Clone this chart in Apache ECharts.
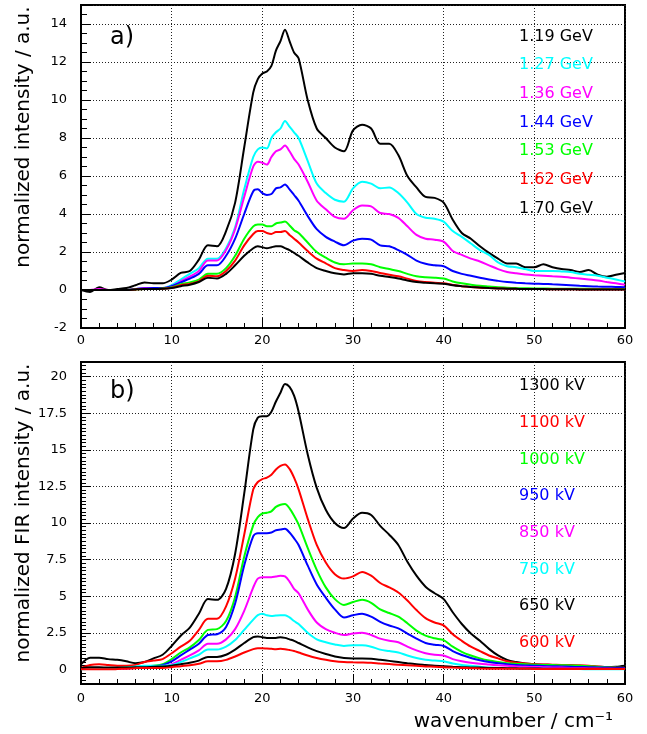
<!DOCTYPE html>
<html>
<head>
<meta charset="utf-8">
<script src="https://cdn.jsdelivr.net/npm/echarts@6/dist/echarts.min.js"></script>
<style>
  html, body { margin: 0; padding: 0; background: #fff; }
  #main { width: 647px; height: 734px; }
</style>
</head>
<body>
<div id="main"></div>
<script>
// wavenumber grid (cm^-1), finer around the main peak
var wavenumber = [0, 1, 2, 3, 4, 5, 6, 7, 8, 9, 10, 11, 12, 13, 14, 15, 16, 17, 18, 19,
    19.5, 20, 20.5, 21, 21.5, 22, 22.5, 23, 23.5, 24,
    25, 26, 27, 28, 29, 30, 31, 32, 33, 34, 35, 36, 37, 38, 39, 40, 41, 42, 43, 44,
    45, 46, 47, 48, 49, 50, 51, 52, 53, 54, 55, 56, 57, 58, 59, 60];

// panel a) electron energy
var gevNames = ['1.19 GeV', '1.27 GeV', '1.36 GeV', '1.44 GeV', '1.53 GeV', '1.62 GeV', '1.70 GeV'];
var gevColors = ['#000000', '#00ffff', '#ff00ff', '#0000ff', '#00ff00', '#ff0000', '#000000'];
var gev119 = [0, -0.1, 0.15, 0, 0.05, 0.1, 0.25, 0.4, 0.35, 0.35, 0.55, 0.9, 1.0, 1.6, 2.35, 2.3, 3.1, 4.6, 7.5, 10.4,
    11.1, 11.4, 11.5, 11.8, 12.6, 13.1, 13.7, 13.1, 12.5, 12.2,
    10.0, 8.5, 8.0, 7.5, 7.3, 8.4, 8.7, 8.5, 7.7, 7.7, 7.1, 6.0, 5.4, 4.9, 4.85, 4.6, 3.7, 3.0, 2.7, 2.3,
    1.95, 1.65, 1.4, 1.4, 1.2, 1.2, 1.35, 1.2, 1.1, 1.05, 0.95, 1.05, 0.8, 0.7, 0.8, 0.9];
var gev127 = [0, 0, 0, 0, 0, 0, 0.05, 0.1, 0.1, 0.1, 0.25, 0.55, 0.85, 1.15, 1.65, 1.65, 2.2, 3.3, 5.3, 7.0,
    7.4, 7.5, 7.45, 8.0, 8.3, 8.5, 8.9, 8.6, 8.3, 8.0,
    6.8, 5.6, 5.1, 4.75, 4.65, 5.35, 5.7, 5.6, 5.35, 5.4, 5.1, 4.6, 4.0, 3.8, 3.75, 3.6, 3.1, 2.8, 2.45, 2.1,
    1.85, 1.45, 1.25, 1.2, 1.1, 1.0, 1.0, 1.0, 0.98, 0.95, 0.85, 0.8, 0.75, 0.65, 0.55, 0.45];
var gev136 = [0, 0, 0.05, 0, 0, 0, 0.05, 0.1, 0.1, 0.1, 0.2, 0.45, 0.7, 1.0, 1.55, 1.55, 2.1, 3.2, 4.9, 6.5,
    6.75, 6.7, 6.6, 7.0, 7.3, 7.4, 7.6, 7.3, 6.9, 6.6,
    5.7, 4.7, 4.25, 3.85, 3.75, 4.2, 4.45, 4.4, 4.05, 4.0, 3.8, 3.35, 2.9, 2.7, 2.65, 2.55, 2.05, 1.85, 1.65, 1.5,
    1.3, 1.1, 0.95, 0.88, 0.82, 0.78, 0.75, 0.72, 0.7, 0.65, 0.6, 0.55, 0.5, 0.42, 0.35, 0.28];
var gev144 = [0, 0, 0, 0, 0, 0, 0.05, 0.08, 0.1, 0.1, 0.2, 0.4, 0.6, 0.85, 1.3, 1.3, 1.8, 2.7, 4.0, 5.2,
    5.3, 5.1, 5.0, 5.05, 5.35, 5.4, 5.55, 5.3, 5.0, 4.7,
    3.9, 3.2, 2.8, 2.55, 2.35, 2.6, 2.7, 2.65, 2.35, 2.3, 2.1, 1.85, 1.55, 1.38, 1.3, 1.25, 1.0, 0.85, 0.75, 0.65,
    0.55, 0.48, 0.42, 0.38, 0.35, 0.33, 0.32, 0.3, 0.28, 0.25, 0.22, 0.2, 0.18, 0.17, 0.16, 0.15];
var gev153 = [0, 0, 0, 0, 0, 0, 0.03, 0.05, 0.05, 0.08, 0.15, 0.3, 0.4, 0.55, 0.85, 0.85, 1.15, 1.8, 2.7, 3.35,
    3.45, 3.45, 3.35, 3.35, 3.5, 3.55, 3.6, 3.4, 3.15, 3.0,
    2.5, 2.0, 1.7, 1.45, 1.35, 1.4, 1.4, 1.35, 1.2, 1.1, 1.0, 0.85, 0.72, 0.67, 0.65, 0.6, 0.45, 0.35, 0.28, 0.22,
    0.18, 0.14, 0.12, 0.1, 0.09, 0.08, 0.08, 0.07, 0.07, 0.06, 0.06, 0.06, 0.05, 0.05, 0.05, 0.05];
var gev162 = [0, 0, 0, 0, 0, 0, 0.03, 0.05, 0.05, 0.07, 0.12, 0.25, 0.32, 0.45, 0.75, 0.72, 1.0, 1.55, 2.35, 2.95,
    3.1, 3.1, 3.0, 2.95, 3.05, 3.05, 3.1, 2.9, 2.7, 2.5,
    2.05, 1.65, 1.4, 1.15, 1.05, 1.0, 1.05, 1.0, 0.9, 0.8, 0.72, 0.6, 0.48, 0.42, 0.38, 0.35, 0.27, 0.2, 0.16, 0.12,
    0.1, 0.08, 0.07, 0.06, 0.05, 0.05, 0.05, 0.04, 0.04, 0.04, 0.03, 0.03, 0.03, 0.03, 0.03, 0.03];
var gev170 = [0, 0, 0, 0, 0, 0, 0.03, 0.05, 0.05, 0.06, 0.1, 0.2, 0.28, 0.42, 0.65, 0.6, 0.85, 1.3, 1.8, 2.2,
    2.3, 2.25, 2.2, 2.25, 2.3, 2.3, 2.2, 2.1, 1.95, 1.8,
    1.45, 1.15, 1.0, 0.88, 0.82, 0.88, 0.88, 0.85, 0.75, 0.68, 0.6, 0.5, 0.42, 0.38, 0.35, 0.33, 0.25, 0.2, 0.16, 0.13,
    0.1, 0.08, 0.07, 0.06, 0.05, 0.05, 0.05, 0.04, 0.04, 0.04, 0.03, 0.03, 0.03, 0.03, 0.03, 0.03];

// panel b) gun voltage
var kvNames = ['1300 kV', '1100 kV', '1000 kV', '950 kV', '850 kV', '750 kV', '650 kV', '600 kV'];
var kvColors = ['#000000', '#ff0000', '#00ff00', '#0000ff', '#ff00ff', '#00ffff', '#000000', '#ff0000'];
var kv1300 = [0.35, 0.8, 0.8, 0.7, 0.65, 0.55, 0.42, 0.5, 0.75, 1.0, 1.6, 2.3, 2.85, 3.8, 4.8, 4.75, 5.5, 7.9, 12.0, 16.4,
    17.2, 17.3, 17.3, 17.6, 18.3, 18.9, 19.5, 19.3, 18.7, 17.6,
    14.7, 12.4, 10.9, 10.0, 9.65, 10.3, 10.7, 10.55, 9.8, 9.2, 8.5, 7.35, 6.4, 5.65, 5.2, 4.8, 3.9, 3.1, 2.45, 1.95,
    1.4, 0.95, 0.65, 0.5, 0.4, 0.35, 0.32, 0.3, 0.27, 0.25, 0.22, 0.2, 0.18, 0.16, 0.18, 0.25];
var kv1100 = [0.1, 0.3, 0.35, 0.3, 0.25, 0.25, 0.3, 0.5, 0.6, 0.7, 1.1, 1.55, 1.95, 2.7, 3.45, 3.45, 4.3, 6.2, 9.2, 12.3,
    12.8, 13.0, 13.1, 13.3, 13.65, 13.9, 14.0, 13.7, 13.1, 12.3,
    10.3, 8.5, 7.3, 6.5, 6.2, 6.35, 6.65, 6.4, 5.9, 5.6, 5.25, 4.7, 4.05, 3.5, 3.2, 3.0, 2.4, 1.95, 1.55, 1.25,
    0.95, 0.75, 0.55, 0.45, 0.4, 0.35, 0.33, 0.32, 0.3, 0.3, 0.28, 0.25, 0.2, 0.15, 0.12, 0.1];
var kv1000 = [0.05, 0.1, 0.1, 0.1, 0.1, 0.12, 0.15, 0.2, 0.25, 0.35, 0.7, 1.15, 1.5, 2.0, 2.7, 2.75, 3.3, 4.95, 7.7, 9.85,
    10.4, 10.65, 10.7, 10.8, 11.1, 11.25, 11.3, 11.0, 10.5, 9.9,
    8.3, 6.8, 5.6, 4.8, 4.4, 4.6, 4.75, 4.55, 4.1, 3.85, 3.6, 3.15, 2.65, 2.3, 2.12, 2.0, 1.55, 1.2, 0.95, 0.75,
    0.6, 0.5, 0.42, 0.38, 0.35, 0.32, 0.3, 0.3, 0.28, 0.27, 0.25, 0.22, 0.18, 0.15, 0.12, 0.1];
var kv950 = [0.05, 0.1, 0.1, 0.1, 0.1, 0.1, 0.12, 0.15, 0.2, 0.3, 0.55, 0.95, 1.35, 1.75, 2.35, 2.4, 2.9, 4.5, 7.1, 9.1,
    9.3, 9.3, 9.3, 9.35, 9.5, 9.55, 9.6, 9.35, 8.95, 8.5,
    7.1, 5.8, 4.9, 4.1, 3.55, 3.7, 3.8, 3.6, 3.25, 3.0, 2.8, 2.45, 2.1, 1.8, 1.68, 1.6, 1.25, 0.98, 0.78, 0.62,
    0.5, 0.42, 0.35, 0.3, 0.27, 0.25, 0.23, 0.21, 0.2, 0.18, 0.16, 0.15, 0.13, 0.12, 0.11, 0.1];
var kv850 = [0.05, 0.05, 0.05, 0.05, 0.05, 0.05, 0.1, 0.12, 0.15, 0.2, 0.35, 0.65, 0.95, 1.3, 1.75, 1.75, 2.05, 2.75, 4.0, 5.6,
    6.2, 6.3, 6.3, 6.3, 6.35, 6.4, 6.35, 6.0, 5.5, 5.2,
    4.1, 3.2, 2.75, 2.5, 2.35, 2.45, 2.5, 2.35, 2.1, 1.95, 1.85, 1.55, 1.3, 1.1, 1.0, 0.95, 0.7, 0.55, 0.45, 0.38,
    0.33, 0.28, 0.24, 0.2, 0.18, 0.16, 0.15, 0.13, 0.12, 0.1, 0.09, 0.08, 0.07, 0.06, 0.05, 0.05];
var kv750 = [0, 0.05, 0.05, 0.05, 0.1, 0.12, 0.2, 0.25, 0.25, 0.25, 0.3, 0.5, 0.75, 1.0, 1.35, 1.35, 1.55, 2.0, 2.7, 3.4,
    3.7, 3.8, 3.7, 3.65, 3.68, 3.7, 3.7, 3.55, 3.3, 3.1,
    2.5, 2.05, 1.85, 1.7, 1.6, 1.65, 1.65, 1.55, 1.35, 1.25, 1.15, 0.95, 0.78, 0.66, 0.6, 0.55, 0.4, 0.3, 0.25, 0.18,
    0.12, 0.1, 0.08, 0.06, 0.05, 0.05, 0.04, 0.03, 0.03, 0.02, 0.02, 0.01, 0.01, 0, 0, 0];
var kv650 = [0.1, 0.15, 0.15, 0.12, 0.12, 0.12, 0.15, 0.15, 0.18, 0.2, 0.25, 0.35, 0.45, 0.6, 0.85, 0.85, 1.0, 1.35, 1.8, 2.2,
    2.25, 2.2, 2.15, 2.15, 2.15, 2.2, 2.15, 2.05, 1.95, 1.8,
    1.5, 1.25, 1.05, 0.88, 0.78, 0.75, 0.75, 0.72, 0.65, 0.58, 0.5, 0.42, 0.35, 0.3, 0.25, 0.22, 0.18, 0.15, 0.13, 0.12,
    0.1, 0.09, 0.08, 0.07, 0.06, 0.06, 0.05, 0.05, 0.05, 0.05, 0.05, 0.05, 0.05, 0.05, 0.05, 0.05];
var kv600 = [0, 0, 0, 0, 0.02, 0.05, 0.08, 0.1, 0.1, 0.1, 0.15, 0.22, 0.28, 0.38, 0.55, 0.55, 0.65, 0.88, 1.15, 1.38,
    1.45, 1.45, 1.42, 1.4, 1.38, 1.4, 1.38, 1.32, 1.25, 1.15,
    0.95, 0.78, 0.65, 0.55, 0.5, 0.48, 0.47, 0.45, 0.4, 0.36, 0.32, 0.28, 0.24, 0.2, 0.18, 0.15, 0.12, 0.1, 0.08, 0.06,
    0.05, 0.05, 0.04, 0.04, 0.04, 0.03, 0.03, 0.03, 0.03, 0.03, 0.02, 0.02, 0.02, 0.02, 0.02, 0.02];

var gevData = [gev119, gev127, gev136, gev144, gev153, gev162, gev170];
var kvData = [kv1300, kv1100, kv1000, kv950, kv850, kv750, kv650, kv600];
var xTicks = [0, 10, 20, 30, 40, 50, 60];
var yTicksB = [0, 2.5, 5, 7.5, 10, 12.5, 15, 17.5, 20];

var FONT = '"DejaVu Sans", sans-serif';

function toPairs(vals) {
    return wavenumber.map(function (x, i) { return [x, vals[i]]; });
}

function xAxisFor(idx, margin) {
    return {
        type: 'value', gridIndex: idx, min: 0, max: 60, interval: 10,
        axisLine: { show: true, onZero: false, lineStyle: { color: '#000', width: 2 } },
        axisTick: { show: true, inside: true, length: 10, lineStyle: { color: '#000', width: 1 } },
        minorTick: { show: true, splitNumber: 5, length: 5, lineStyle: { color: '#000', width: 1 } },
        axisLabel: { color: '#000', fontSize: 13, fontFamily: FONT, margin: margin },
        splitLine: { show: true, lineStyle: { color: '#222', width: 1, type: [1, 2] } }
    };
}

var chart = echarts.init(document.getElementById('main'), null, { renderer: 'canvas' });

var series = [];
gevData.forEach(function (vals, i) {
    series.push({
        name: gevNames[i], type: 'line', xAxisIndex: 0, yAxisIndex: 0,
        data: toPairs(vals), smooth: 0.3, showSymbol: false, symbol: 'none',
        lineStyle: { color: gevColors[i], width: 2 }, itemStyle: { color: gevColors[i] }
    });
});
kvData.forEach(function (vals, i) {
    series.push({
        name: kvNames[i], type: 'line', xAxisIndex: 1, yAxisIndex: 1,
        data: toPairs(vals), smooth: 0.3, showSymbol: false, symbol: 'none',
        lineStyle: { color: kvColors[i], width: 2 }, itemStyle: { color: kvColors[i] }
    });
});

var option = {
    animation: false,
    backgroundColor: '#fff',
    grid: [
        { left: 81, right: 22, top: 5, height: 323, show: true, borderColor: '#000', borderWidth: 2, outerBoundsMode: 'none' },
        { left: 81, right: 22, top: 362, height: 322, show: true, borderColor: '#000', borderWidth: 2, outerBoundsMode: 'none' }
    ],
    xAxis: [xAxisFor(0, 6), xAxisFor(1, 8)],
    yAxis: [
        {
            type: 'value', gridIndex: 0, position: 'left', min: -2, max: 15, interval: 2,
            axisLine: { show: true, lineStyle: { color: '#000', width: 2 } },
            axisTick: { show: true, inside: true, length: 10, lineStyle: { color: '#000' } },
            minorTick: { show: true, splitNumber: 4, length: 6, lineStyle: { color: '#000' } },
            axisLabel: { color: '#000', fontSize: 13, fontFamily: FONT, margin: 14, showMaxLabel: false },
            splitLine: { show: true, lineStyle: { color: '#222', width: 1, type: [1, 2] } }
        },
        {
            type: 'value', gridIndex: 1, position: 'left', min: -1, max: 21,
            axisLine: { show: true, lineStyle: { color: '#000', width: 2 } },
            axisTick: { show: true, inside: true, length: 10, customValues: yTicksB, lineStyle: { color: '#000' } },
            axisLabel: { color: '#000', fontSize: 13, fontFamily: FONT, margin: 14, customValues: yTicksB },
            splitLine: { show: true, lineStyle: { color: '#222', width: 1, type: [1, 2] } }
        },
        {
            // fine ticks every 0.25 for panel b
            type: 'value', gridIndex: 1, position: 'left', min: -1, max: 21, interval: 0.25,
            axisLine: { show: false },
            axisTick: { show: true, inside: true, length: 5, lineStyle: { color: '#000' } },
            axisLabel: { show: false },
            splitLine: { show: false }
        }
    ],
    legend: [
        {
            orient: 'vertical', left: 514, top: 26.5, padding: 0, icon: 'none',
            itemWidth: 0, itemHeight: 0, itemGap: 8.7, selectedMode: false,
            textStyle: { fontSize: 16, lineHeight: 20, fontFamily: FONT },
            data: gevNames.map(function (n, i) { return { name: n, textStyle: { color: gevColors[i] } }; })
        },
        {
            orient: 'vertical', left: 514, top: 376, padding: 0, icon: 'none',
            itemWidth: 0, itemHeight: 0, itemGap: 16.7, selectedMode: false,
            textStyle: { fontSize: 16, lineHeight: 20, fontFamily: FONT },
            data: kvNames.map(function (n, i) { return { name: n, textStyle: { color: kvColors[i] } }; })
        }
    ],
    graphic: [
        { type: 'text', x: 110, y: 38, style: { text: 'a)', fontSize: 24, fontFamily: FONT, fill: '#000', verticalAlign: 'middle' } },
        { type: 'text', x: 110, y: 392, style: { text: 'b)', fontSize: 24, fontFamily: FONT, fill: '#000', verticalAlign: 'middle' } },
        { type: 'text', x: 24, y: 137, rotation: Math.PI / 2,
          style: { text: 'normalized intensity / a.u.', fontSize: 20, fontFamily: FONT, fill: '#000', align: 'center', verticalAlign: 'middle' } },
        { type: 'text', x: 24, y: 513, rotation: Math.PI / 2,
          style: { text: 'normalized FIR intensity / a.u.', fontSize: 20, fontFamily: FONT, fill: '#000', align: 'center', verticalAlign: 'middle' } },
        { type: 'text', x: 613, y: 722,
          style: { text: 'wavenumber / cm\u207B\u00B9', fontSize: 20, fontFamily: FONT, fill: '#000', align: 'right', verticalAlign: 'middle' } }
    ],
    series: series
};

chart.setOption(option);
</script>
</body>
</html>
